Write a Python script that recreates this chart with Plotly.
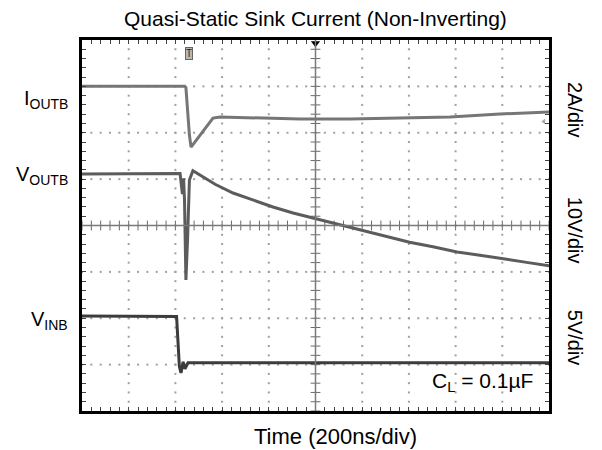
import numpy as np
import plotly.graph_objects as go

# Scope settings: 10 horizontal divisions of 200 ns, 8 vertical divisions
NS_PER_DIV = 200
X_DIVS = 10
Y_DIVS = 8
MINOR = 5  # minor ticks per division

# Channel scales (units per division) and ground positions (in divisions from centre)
CH_SCALE = {"iout": 2.0, "vout": 10.0, "vin": 5.0}
CH_GROUND = {"iout": 2.95, "vout": -1.33, "vin": -3.0}

# I_OUTB (A) versus time (ns)
iout_t = [-1000, -700, -560, -555, -548, -540, -533, -500, -470, -439, -409, -251, -66, 148, 362, 576, 790, 1000]
iout_a = [0.11, 0.09, 0.11, 0.05, -0.92, -2.0, -2.52, -2.09, -1.65, -1.27, -1.22, -1.27, -1.31, -1.31, -1.27, -1.22, -1.09, -1.01]

# V_OUTB (V) versus time (ns)
vout_t = [-1000, -709, -580, -570, -565, -561, -555, -548, -540, -525, -495, -430, -353, -268, -182, -96, 6, 105, 203, 304, 403, 503, 606, 704, 790, 897, 1000]
vout_v = [24.4, 24.5, 24.5, 20.1, 23.5, 18.8, 1.55, 10.2, 23.1, 25.1, 24.2, 22.2, 20.3, 18.8, 17.3, 16.0, 14.7, 13.4, 12.3, 11.0, 9.7, 8.7, 7.6, 6.9, 6.3, 5.4, 4.6]

# V_INB (V) versus time (ns)
vin_t = [-1000, -600, -595, -589, -583, -576, -567, -559, -546, -500, 1000]
vin_v = [5.25, 5.25, 5.2, 2.5, -0.2, -0.9, 0.3, -0.45, 0.2, 0.2, 0.2]

TRIGGER_NS = -540

FONT = "Liberation Sans, Arial, sans-serif"
half_x = NS_PER_DIV * X_DIVS / 2
half_y = Y_DIVS / 2


def ch_range(ch):
    s, g = CH_SCALE[ch], CH_GROUND[ch]
    return [(-half_y - g) * s, (half_y - g) * s]


fig = go.Figure()

# dotted graticule: dots every minor step along each major division line
minor_x = np.arange(-half_x, half_x + 1e-9, NS_PER_DIV / MINOR)
minor_y = np.arange(-half_y, half_y + 1e-9, 1 / MINOR)
gx, gy = [], []
for k in range(-X_DIVS // 2 + 1, X_DIVS // 2):
    if k == 0:
        continue
    gx += [k * NS_PER_DIV] * len(minor_y)
    gy += list(minor_y)
for k in range(-Y_DIVS // 2 + 1, Y_DIVS // 2):
    if k == 0:
        continue
    gx += list(minor_x)
    gy += [k] * len(minor_x)
fig.add_trace(go.Scatter(x=gx, y=gy, mode="markers", hoverinfo="skip",
                         marker=dict(symbol="square", size=2, color="#a0a0a0", line=dict(width=0))))

# centre crosshair with minor tick marks
fig.add_shape(type="line", x0=0, x1=0, y0=-half_y, y1=half_y, line=dict(color="#7a7a7a", width=1.5))
fig.add_shape(type="line", x0=-half_x, x1=half_x, y0=0, y1=0, line=dict(color="#7a7a7a", width=1.5))
fig.add_trace(go.Scatter(x=minor_x, y=[0] * len(minor_x), mode="markers", hoverinfo="skip",
                         marker=dict(symbol="line-ns", size=7, line=dict(width=1, color="#6a6a6a"))))
fig.add_trace(go.Scatter(x=[0] * len(minor_y), y=minor_y, mode="markers", hoverinfo="skip",
                         marker=dict(symbol="line-ew", size=7, line=dict(width=1, color="#6a6a6a"))))

# waveforms
fig.add_trace(go.Scatter(x=iout_t, y=iout_a, yaxis="y2", mode="lines", hoverinfo="skip",
                         line=dict(color="#767676", width=3)))
fig.add_trace(go.Scatter(x=vout_t, y=vout_v, yaxis="y3", mode="lines", hoverinfo="skip",
                         line=dict(color="#5c5c5c", width=3)))
fig.add_trace(go.Scatter(x=vin_t, y=vin_v, yaxis="y4", mode="lines", hoverinfo="skip",
                         line=dict(color="#3c3c3c", width=3)))

# channel ground markers on the left edge
for ax in ("y2", "y3", "y4"):
    fig.add_trace(go.Scatter(x=[-half_x - 17], y=[0], yaxis=ax, mode="markers", cliponaxis=False,
                             hoverinfo="skip", marker=dict(symbol="triangle-right", size=9, color="black")))

# small reference-level marker at the right end of the current trace
fig.add_trace(go.Scatter(x=[half_x - 22], y=[iout_a[-1] - 0.4], yaxis="y2", mode="markers",
                         hoverinfo="skip", marker=dict(symbol="triangle-left", size=5, color="#a8a8a8")))

# trigger position marker at the top centre
fig.add_trace(go.Scatter(x=[0], y=[half_y - 0.07], mode="markers", cliponaxis=False, hoverinfo="skip",
                         marker=dict(symbol="triangle-down", size=8, color="black")))

fig.add_annotation(x=TRIGGER_NS, y=half_y - 0.3, xref="x", yref="y", text="T", showarrow=False,
                   font=dict(family=FONT, size=10, color="#222"), bgcolor="#b8b8b8",
                   bordercolor="#666", borderwidth=1, borderpad=0)

axis_common = dict(showgrid=False, zeroline=False, showline=True, linewidth=3, linecolor="black",
                   mirror="ticks", ticks="inside", ticklen=4, tickwidth=1, tickcolor="#444",
                   showticklabels=False, fixedrange=True)

fig.update_layout(
    width=602, height=450,
    margin=dict(l=82, r=53, t=40, b=39),
    paper_bgcolor="white", plot_bgcolor="white",
    showlegend=False,
    xaxis=dict(range=[-half_x, half_x], tick0=-half_x, dtick=NS_PER_DIV / MINOR, **axis_common),
    yaxis=dict(range=[-half_y, half_y], tick0=-half_y, dtick=1 / MINOR, **axis_common),
    yaxis2=dict(range=ch_range("iout"), overlaying="y", visible=False, fixedrange=True),
    yaxis3=dict(range=ch_range("vout"), overlaying="y", visible=False, fixedrange=True),
    yaxis4=dict(range=ch_range("vin"), overlaying="y", visible=False, fixedrange=True),
)


def font(size):
    return dict(family=FONT, size=size, color="black")


ann = [
    dict(text="Quasi-Static Sink Current (Non-Inverting)", x=0.5, y=1.059, xanchor="center", yanchor="middle", font=font(21)),
    dict(text="Time (200ns/div)", x=0.543, y=-0.07, xanchor="center", yanchor="middle", font=font(22)),
    dict(text="2A/div", x=1.056, y=0.811, textangle=90, xanchor="center", yanchor="middle", font=font(20)),
    dict(text="10V/div", x=1.056, y=0.488, textangle=90, xanchor="center", yanchor="middle", font=font(20)),
    dict(text="5V/div", x=1.056, y=0.197, textangle=90, xanchor="center", yanchor="middle", font=font(20)),
    dict(text="I<sub>OUTB</sub>", x=-0.026, y=0.84, xanchor="right", yanchor="middle", font=font(20)),
    dict(text="V<sub>OUTB</sub>", x=-0.026, y=0.636, xanchor="right", yanchor="middle", font=font(20)),
    dict(text="V<sub>INB</sub>", x=-0.026, y=0.245, xanchor="right", yanchor="middle", font=font(20)),
    dict(text="C<sub>L</sub> = 0.1µF", x=0.97, y=0.078, xanchor="right", yanchor="middle", font=font(21)),
]
for a in ann:
    fig.add_annotation(xref="paper", yref="paper", showarrow=False, **a)

fig.write_html("out.html")
